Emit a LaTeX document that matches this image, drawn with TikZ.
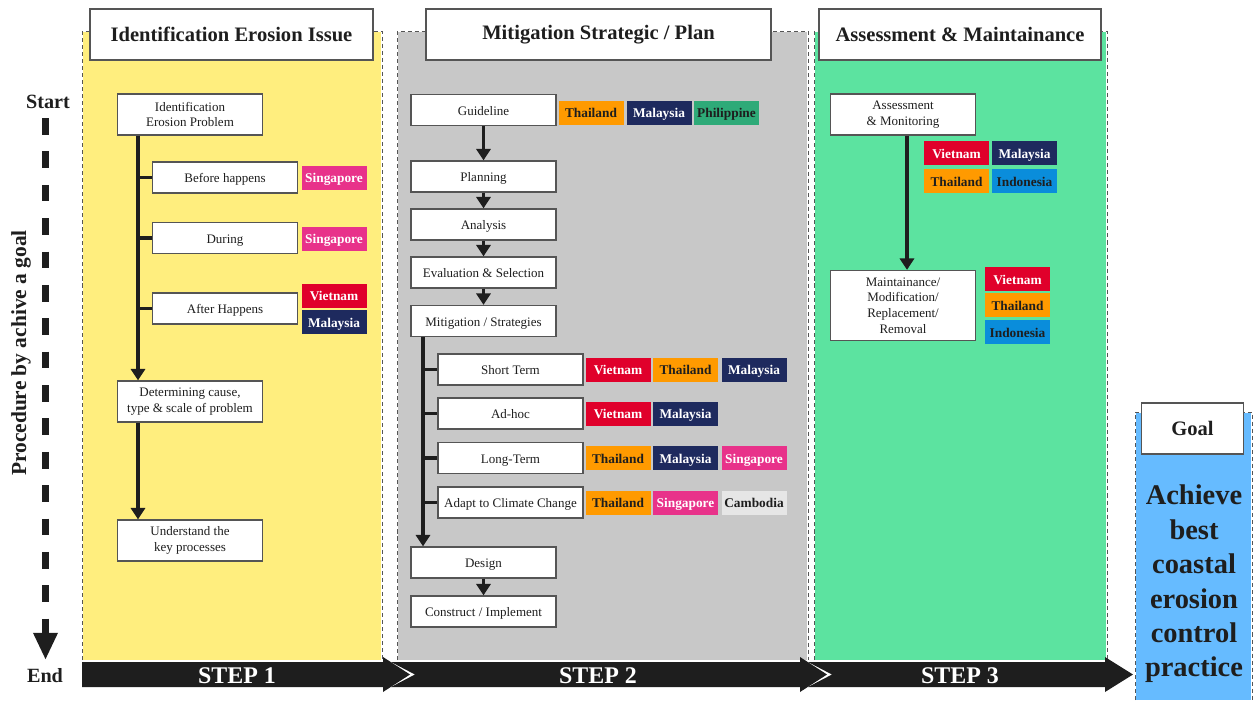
\documentclass[tikz,border=0pt]{standalone}
\usepackage{fontspec}
\setmainfont{Liberation Serif}
\usetikzlibrary{arrows.meta}

\definecolor{panelY}{HTML}{FFEE7E}
\definecolor{panelG}{HTML}{C8C8C8}
\definecolor{panelT}{HTML}{5CE3A0}
\definecolor{panelB}{HTML}{66BBFF}
\definecolor{cVN}{HTML}{E0002B}
\definecolor{cMY}{HTML}{1E2A5E}
\definecolor{cTH}{HTML}{FF9A00}
\definecolor{cSG}{HTML}{E8328A}
\definecolor{cPH}{HTML}{2EAA78}
\definecolor{cID}{HTML}{0A8DDB}
\definecolor{cKH}{HTML}{E6E6E6}
\definecolor{edge}{HTML}{555555}
\definecolor{ink}{HTML}{1E1E1E}

\tikzset{
  wh/.style 2 args={minimum width=#1*0.02cm, minimum height=#2*0.02cm},
  boxbase/.style={draw=edge, line width=0.7pt, fill=white, inner sep=0pt,
    align=center, text=ink, font=\fontsize{7.4}{9}\selectfont},
  stepbox/.style={boxbase, wh={145}{31}, text height=6.4pt, text depth=0.6pt},
  tallbox/.style={boxbase, wh={145}{41}},
  headbox/.style={draw=edge, line width=0.8pt, fill=white, inner sep=0pt,
    text=ink, font=\bfseries\fontsize{11.7}{14}\selectfont},
  tag/.style={inner sep=0pt, wh={65}{24}, text height=6.6pt, text depth=0.7pt,
    font=\bfseries\fontsize{7.6}{9}\selectfont},
  tagVN/.style={tag, fill=cVN, text=white},
  tagMY/.style={tag, fill=cMY, text=white},
  tagTH/.style={tag, fill=cTH, text=ink},
  tagSG/.style={tag, fill=cSG, text=white},
  tagPH/.style={tag, fill=cPH, text=ink},
  tagID/.style={tag, fill=cID, text=ink},
  tagKH/.style={tag, fill=cKH, text=ink},
  flow/.style={line width=2pt, draw=ink, -{Triangle[width=8pt,length=6.5pt]}},
  link/.style={line width=2pt, draw=ink},
  panelline/.style={draw=edge, line width=0.5pt, dash pattern=on 2.3pt off 1.7pt},
  steplabel/.style={text=white, font=\bfseries\fontsize{13.6}{16}\selectfont},
}

\begin{document}
\begin{tikzpicture}[x=0.02cm, y=-0.02cm]
\useasboundingbox (0,0) rectangle (1257,700);

% coloured step panels
\fill[panelY] (83,32) rectangle (381,660);
\draw[panelline] (82,660) -- (82,31) -- (382,31) -- (382,660);
\fill[panelG] (398,32) rectangle (807,660);
\draw[panelline] (397,660) -- (397,31) -- (808,31) -- (808,660);
\fill[panelT] (815,32) rectangle (1106,660);
\draw[panelline] (814,660) -- (814,31) -- (1107,31) -- (1107,660);
\fill[panelB] (1136,413) rectangle (1251,700);
\draw[panelline] (1135,700) -- (1135,412) -- (1252,412) -- (1252,700);

% panel titles
\node[headbox, wh={283}{51}] (h1) at (231.5,34.5) {Identification Erosion Issue};
\node[headbox, wh={345}{51}] (h2) at (598.5,34.5) {Mitigation Strategic / Plan};
\node[headbox, wh={282}{51}] (h3) at (960,34.5) {Assessment \& Maintainance};
\node[headbox, wh={102}{51}] (h4) at (1192.5,428.5) {Goal};

% ---- step 1 ----
\node[tallbox] (p1a) at (190,114.5) {Identification\\Erosion Problem};
\node[stepbox] (p1b) at (225,177.5) {Before happens};
\node[tagSG] (p1bSG) at (334,177.5) {Singapore};
\node[stepbox] (p1c) at (225,238) {During};
\node[tagSG] (p1cSG) at (334,238.5) {Singapore};
\node[stepbox] (p1d) at (225,308.5) {After Happens};
\node[tagVN] (p1dVN) at (334,295.5) {Vietnam};
\node[tagMY] (p1dMY) at (334,322) {Malaysia};
\node[tallbox] (p1e) at (190,401.5) {Determining cause,\\type \& scale of problem};
\node[tallbox] (p1f) at (190,540.5) {Understand the\\key processes};

\coordinate (t1) at (138,0);
\draw[flow] (p1a.south -| t1) -- (p1e.north -| t1);
\draw[link] (p1b.west -| t1) -- (p1b.west);
\draw[link] (p1c.west -| t1) -- (p1c.west);
\draw[link] (p1d.west -| t1) -- (p1d.west);
\draw[flow] (p1e.south -| t1) -- (p1f.north -| t1);

% ---- step 2 ----
\node[stepbox] (g1) at (483.5,110) {Guideline};
\node[tagTH] (g1TH) at (591,112.5) {Thailand};
\node[tagMY] (g1MY) at (659,112.5) {Malaysia};
\node[tagPH] (g1PH) at (726.5,112.5) {Philippine};
\node[stepbox] (g2) at (483.5,176.5) {Planning};
\node[stepbox] (g3) at (483.5,224.5) {Analysis};
\node[stepbox] (g4) at (483.5,272.5) {Evaluation \& Selection};
\node[stepbox] (g5) at (483.5,321) {Mitigation / Strategies};

\node[stepbox] (s1) at (510.5,369.5) {Short Term};
\node[tagVN] (s1VN) at (618,369.5) {Vietnam};
\node[tagTH] (s1TH) at (685.5,369.5) {Thailand};
\node[tagMY] (s1MY) at (754,369.5) {Malaysia};
\node[stepbox] (s2) at (510.5,413.5) {Ad-hoc};
\node[tagVN] (s2VN) at (618,413.5) {Vietnam};
\node[tagMY] (s2MY) at (685.5,413.5) {Malaysia};
\node[stepbox] (s3) at (510.5,458) {Long-Term};
\node[tagTH] (s3TH) at (618,458) {Thailand};
\node[tagMY] (s3MY) at (685.5,458) {Malaysia};
\node[tagSG] (s3SG) at (754,458) {Singapore};
\node[stepbox] (s4) at (510.5,502.5) {Adapt to Climate Change};
\node[tagTH] (s4TH) at (618,502.5) {Thailand};
\node[tagSG] (s4SG) at (685.5,502.5) {Singapore};
\node[tagKH] (s4KH) at (754,502.5) {Cambodia};

\node[stepbox] (g6) at (483.5,562.5) {Design};
\node[stepbox] (g7) at (483.5,611.5) {Construct / Implement};

\draw[flow] (g1) -- (g2);
\draw[flow] (g2) -- (g3);
\draw[flow] (g3) -- (g4);
\draw[flow] (g4) -- (g5);
\coordinate (t2) at (423,0);
\draw[flow] (g5.south -| t2) -- (g6.north -| t2);
\draw[link] (s1.west -| t2) -- (s1.west);
\draw[link] (s2.west -| t2) -- (s2.west);
\draw[link] (s3.west -| t2) -- (s3.west);
\draw[link] (s4.west -| t2) -- (s4.west);
\draw[flow] (g6) -- (g7);

% ---- step 3 ----
\node[tallbox] (a1) at (903,114.5) {Assessment\\\& Monitoring};
\node[tagVN] (a1VN) at (956.5,153) {Vietnam};
\node[tagMY] (a1MY) at (1024.5,153) {Malaysia};
\node[tagTH] (a1TH) at (956.5,181) {Thailand};
\node[tagID] (a1ID) at (1024.5,181) {Indonesia};
\node[boxbase, wh={145}{70}] (a2) at (903,305.5) {Maintainance/\\Modification/\\Replacement/\\Removal};
\node[tagVN] (a2VN) at (1017.5,279) {Vietnam};
\node[tagTH] (a2TH) at (1017.5,305) {Thailand};
\node[tagID] (a2ID) at (1017.5,332) {Indonesia};
\coordinate (t3) at (907,0);
\draw[flow] (a1.south -| t3) -- (a2.north -| t3);

% ---- goal ----
\node[align=center, text=ink, font=\bfseries\fontsize{16.2}{19.6}\selectfont]
  (goaltext) at (1194,584) {Achieve\\best\\coastal\\erosion\\control\\practice};

% ---- step band ----
\fill[ink] (82,662) -- (383,662) -- (383,657) -- (410,674.5) -- (383,692)
  -- (383,687) -- (82,687) -- cycle;
\fill[ink] (391,662) -- (800,662) -- (800,657) -- (827,674.5) -- (800,692)
  -- (800,687) -- (391,687) -- (415,674.5) -- cycle;
\fill[ink] (808,662) -- (1105,662) -- (1105,657) -- (1133,674.5) -- (1105,692)
  -- (1105,687) -- (808,687) -- (832,674.5) -- cycle;
\node[steplabel] (st1) at (237,676) {STEP 1};
\node[steplabel] (st2) at (598,676) {STEP 2};
\node[steplabel] (st3) at (960,676) {STEP 3};

% ---- procedure axis ----
\node[text=ink, font=\bfseries\fontsize{11.5}{14}\selectfont] (start) at (48,102) {Start};
\node[text=ink, font=\bfseries\fontsize{11.5}{14}\selectfont] (end) at (45,676) {End};
\coordinate (axtop) at (45.5,118);
\coordinate (axbot) at (45.5,660);
\draw[line width=4.5pt, draw=ink, dash pattern=on 9.5pt off 9.5pt,
  -{Triangle[width=13pt,length=15.5pt]}] (axtop) -- (axbot);
\node[rotate=90, text=ink, font=\bfseries\fontsize{12.2}{14}\selectfont]
  (proc) at (21,353) {Procedure by achive a goal};
\end{tikzpicture}
\end{document}
